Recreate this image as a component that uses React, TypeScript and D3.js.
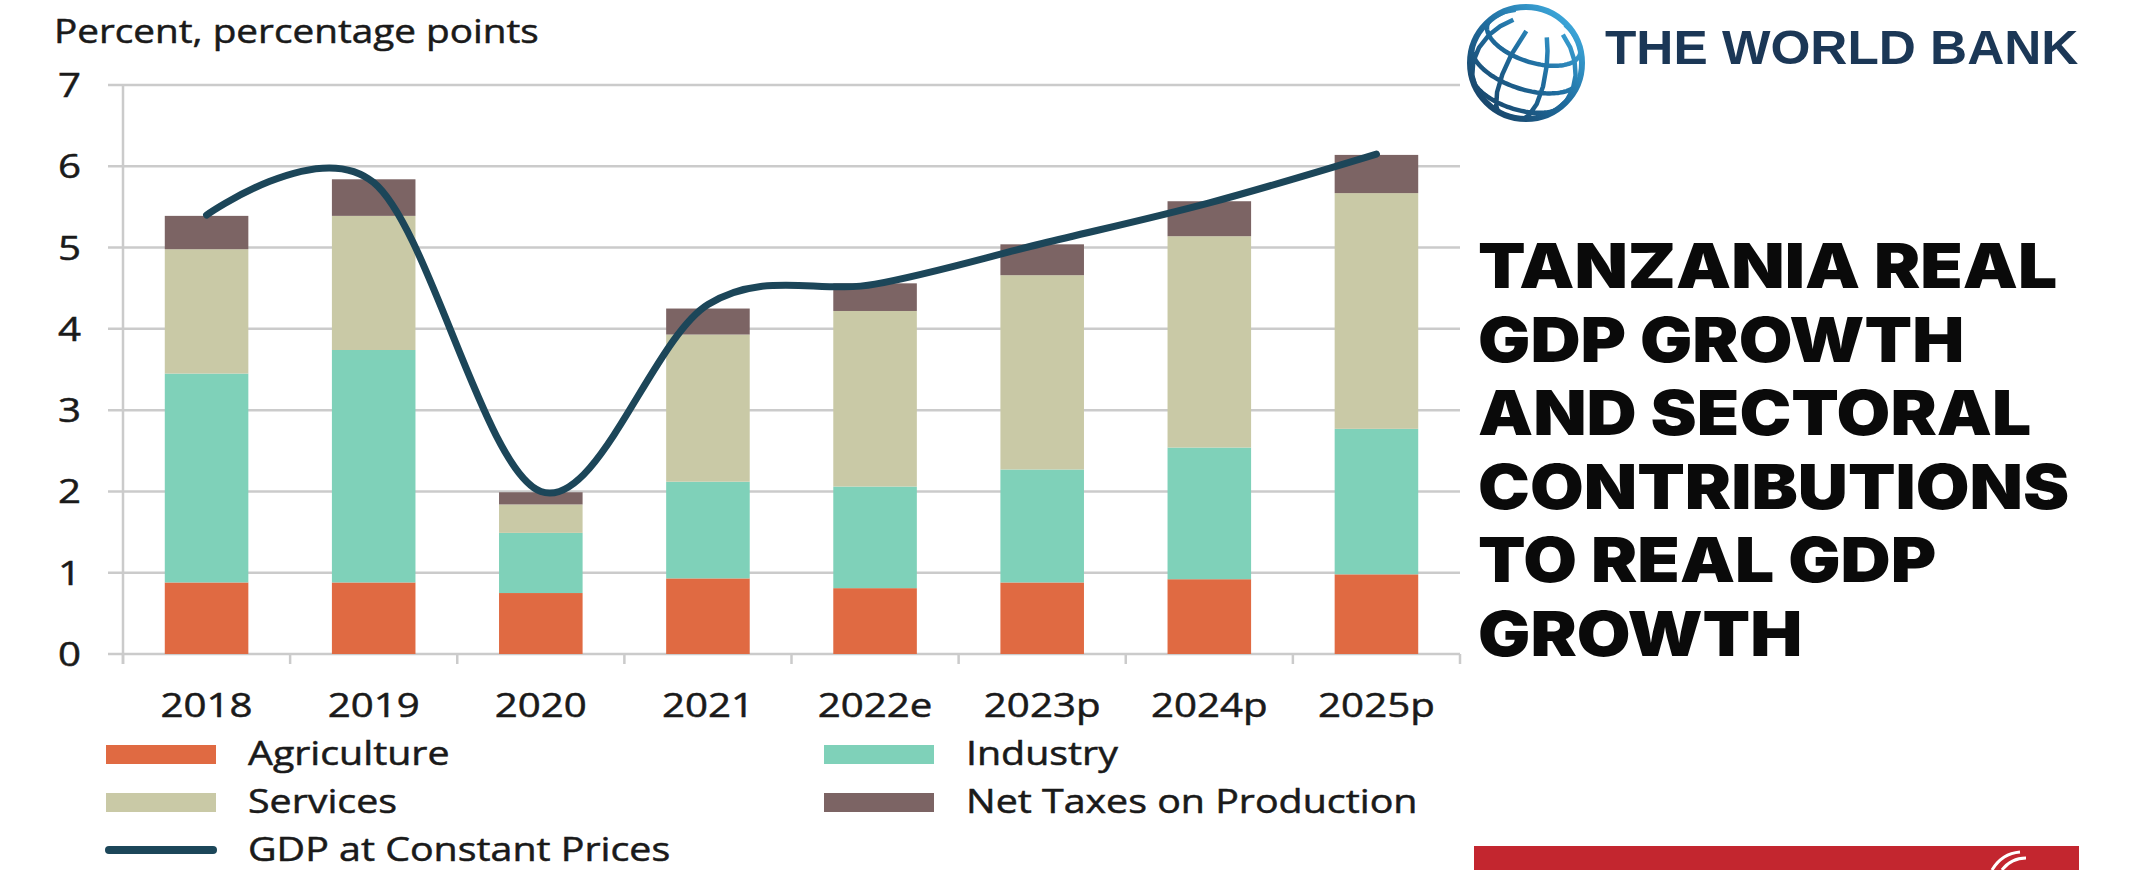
import * as d3 from "d3";

// categories and series (percent / percentage points)
const years = ["2018", "2019", "2020", "2021", "2022e", "2023p", "2024p", "2025p"];
const agriculture = [0.88, 0.88, 0.75, 0.93, 0.81, 0.88, 0.92, 0.98];
const industry = [2.57, 2.86, 0.74, 1.19, 1.25, 1.39, 1.62, 1.79];
const services = [1.53, 1.65, 0.35, 1.81, 2.16, 2.39, 2.6, 2.9];
const netTaxes = [0.41, 0.45, 0.15, 0.32, 0.34, 0.38, 0.43, 0.47];
const gdp = [5.4, 5.8, 2.0, 4.3, 4.55, 5.05, 5.55, 6.15];
const yTicks = [0, 1, 2, 3, 4, 5, 6, 7];

const seriesKeys = ["Agriculture", "Industry", "Services", "Net Taxes on Production"];
const seriesColors = ["#e06a42", "#7fd1b9", "#c9c9a6", "#7c6464"];
const lineLabel = "GDP at Constant Prices";
const lineColor = "#1c4659";

const titleLines = [
  "TANZANIA REAL",
  "GDP GROWTH",
  "AND SECTORAL",
  "CONTRIBUTIONS",
  "TO REAL GDP",
  "GROWTH",
];

const width = 2130;
const height = 870;
const marginLeft = 123;
const plotRight = 1460;
const plotTop = 85;
const plotBottom = 654;
const font = "'Open Sans', sans-serif";
const stretch = 1.22;

// horizontally stretched text, like the picture
function SText({ x, y, sx = stretch, anchor = "start", size = 32, children, ...rest }: any) {
  return (
    <text
      transform={`translate(${x},${y}) scale(${sx},1)`}
      textAnchor={anchor}
      fontSize={size}
      fontFamily={font}
      fill="#1a1a1a"
      stroke="#1a1a1a"
      strokeWidth={0.5}
      {...rest}
    >
      {children}
    </text>
  );
}

function Globe({ cx, cy, r }: any) {
  const projection = d3.geoOrthographic()
    .rotate([25, -28, -18])
    .scale(r)
    .translate([cx, cy])
    .clipAngle(90);
  const path = d3.geoPath(projection);
  const graticule = d3.geoGraticule().step([45, 30]).extent([[-180, -60], [180, 60]])();
  return (
    <g>
      <defs>
        <linearGradient id="globeGrad" gradientUnits="userSpaceOnUse" x1={cx - r} y1={cy + r} x2={cx + r} y2={cy - r}>
          <stop offset="0" stopColor="#173a5a" />
          <stop offset="0.5" stopColor="#1f6c9e" />
          <stop offset="1" stopColor="#45b8ec" />
        </linearGradient>
      </defs>
      <path d={path(graticule) || ""} fill="none" stroke="url(#globeGrad)" strokeWidth={4.5} />
      <circle cx={cx} cy={cy} r={r} fill="none" stroke="url(#globeGrad)" strokeWidth={6} />
    </g>
  );
}

export default function App() {
  const table = years.map((year, i) => ({
    year,
    Agriculture: agriculture[i],
    Industry: industry[i],
    Services: services[i],
    "Net Taxes on Production": netTaxes[i],
  }));

  const x = d3.scaleBand<string>().domain(years).range([marginLeft, plotRight]).paddingInner(0.5).paddingOuter(0.25);
  const xb = d3.scaleBand<string>().domain(years).range([marginLeft, plotRight]);
  const y = d3.scaleLinear().domain([0, 7]).range([plotBottom, plotTop]);

  const stacked = d3.stack<any>().keys(seriesKeys)(table);

  const line = d3.line<number>()
    .x((_, i) => (xb(years[i]) as number) + xb.bandwidth() / 2)
    .y((d) => y(d))
    .curve(d3.curveCardinal.tension(0));

  const tickPositions = [...years.map((yr) => xb(yr) as number), plotRight];

  const legendRows = [
    { key: seriesKeys[0], color: seriesColors[0], col: 0, row: 0 },
    { key: seriesKeys[1], color: seriesColors[1], col: 1, row: 0 },
    { key: seriesKeys[2], color: seriesColors[2], col: 0, row: 1 },
    { key: seriesKeys[3], color: seriesColors[3], col: 1, row: 1 },
  ];
  const legendColX = [106, 824];
  const legendRowY = [754, 802, 850];

  return (
    <div style={{ position: "absolute", left: 0, top: 0 }}>
      <svg width={width} height={height} viewBox={`0 0 ${width} ${height}`} style={{ display: "block", background: "#fff" }}>
        {/* axis title */}
        <SText x={54} y={43} size={32} sx={1.21}>Percent, percentage points</SText>

        {/* gridlines and y ticks */}
        {yTicks.map((t) => (
          <g key={t}>
            <line x1={108} x2={plotRight} y1={y(t)} y2={y(t)} stroke="#cbcbcb" strokeWidth={2.5} />
            <SText x={81} y={y(t) + 12} anchor="end" size={33}>{t}</SText>
          </g>
        ))}
        <line x1={marginLeft} x2={marginLeft} y1={plotTop} y2={plotBottom + 10} stroke="#cbcbcb" strokeWidth={2.5} />
        {tickPositions.map((p, i) => (
          <line key={i} x1={p} x2={p} y1={plotBottom} y2={plotBottom + 10} stroke="#cbcbcb" strokeWidth={2.5} />
        ))}

        {/* stacked bars */}
        {stacked.map((layer, li) => (
          <g key={layer.key} fill={seriesColors[li]}>
            {layer.map((d: any, i: number) => (
              <rect
                key={i}
                x={x(years[i])}
                width={x.bandwidth()}
                y={y(d[1])}
                height={y(d[0]) - y(d[1])}
              />
            ))}
          </g>
        ))}

        {/* GDP line */}
        <path d={line(gdp) || ""} fill="none" stroke={lineColor} strokeWidth={7} strokeLinecap="round" />

        {/* x labels */}
        {years.map((yr) => (
          <SText key={yr} x={(xb(yr) as number) + xb.bandwidth() / 2} y={717} anchor="middle" size={33}>{yr}</SText>
        ))}

        {/* legend */}
        {legendRows.map((l) => (
          <g key={l.key}>
            <rect x={legendColX[l.col]} y={legendRowY[l.row] - 9} width={110} height={19} fill={l.color} />
            <SText x={legendColX[l.col] + 142} y={legendRowY[l.row] + 11} size={32} sx={1.23}>{l.key}</SText>
          </g>
        ))}
        <line x1={legendColX[0] + 3} x2={legendColX[0] + 107} y1={legendRowY[2]} y2={legendRowY[2]} stroke={lineColor} strokeWidth={8} strokeLinecap="round" />
        <SText x={legendColX[0] + 142} y={legendRowY[2] + 11} size={32} sx={1.23}>{lineLabel}</SText>

        {/* World Bank logo */}
        <Globe cx={1526} cy={63} r={56} />
        <text
          transform="translate(1605,64) scale(1.07,1)"
          fontFamily="'Liberation Sans', Arial, sans-serif"
          fontWeight={700}
          fontSize={48}
          fill="#1b3756"
        >
          THE WORLD BANK
        </text>

        {/* title */}
        {titleLines.map((t, i) => (
          <text
            key={i}
            transform={`translate(1478,${288 + i * 73.6}) scale(1.12,1)`}
            fontFamily="Inter, 'DejaVu Sans', sans-serif"
            fontWeight={900}
            fontSize={62}
            fill="#0a0a0a"
          >
            {t}
          </text>
        ))}

        {/* red band */}
        <rect x={1474} y={846} width={605} height={24} fill="#c3262f" />
        <path d="M1992,870 C1998,860 2008,853 2020,852" fill="none" stroke="#fff" strokeWidth={3} />
        <path d="M2002,870 C2008,862 2016,858 2026,858" fill="none" stroke="#fff" strokeWidth={3} />
      </svg>
    </div>
  );
}
